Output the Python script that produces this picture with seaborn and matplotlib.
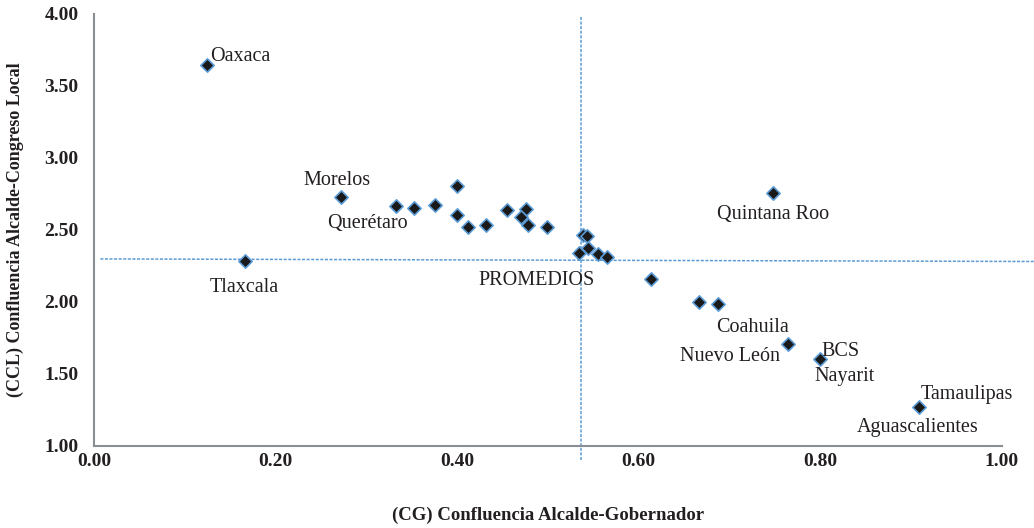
import matplotlib
matplotlib.use("Agg")
import matplotlib.pyplot as plt
import seaborn as sns
import pandas as pd

# confluencia alcalde-gobernador (x) vs alcalde-congreso local (y), por estado
cg = [0.125, 0.166, 0.272, 0.333, 0.353, 0.376, 0.400, 0.400, 0.412, 0.432,
      0.455, 0.476, 0.471, 0.478, 0.499, 0.539, 0.543, 0.544, 0.534, 0.555,
      0.565, 0.614, 0.667, 0.688, 0.748, 0.765, 0.800, 0.909]
ccl = [3.645, 2.281, 2.727, 2.664, 2.650, 2.671, 2.803, 2.601, 2.518, 2.532,
       2.636, 2.643, 2.587, 2.532, 2.518, 2.462, 2.455, 2.372, 2.337, 2.330,
       2.309, 2.160, 2.000, 1.985, 2.754, 1.705, 1.605, 1.272]

# promedios
mean_cg = 0.537
mean_ccl_left = 2.298
mean_ccl_right = 2.280

# etiquetas: (texto, x, y, dx, dy, ha)  dx/dy en puntos
labels = [
    ("Oaxaca", 0.125, 3.645, 2, 6, "left"),
    ("Morelos", 0.272, 2.727, -3, 12, "center"),
    ("Querétaro", 0.272, 2.727, 19, -19, "center"),
    ("Tlaxcala", 0.166, 2.281, 0, -19, "center"),
    ("Quintana Roo", 0.748, 2.754, 0, -15, "center"),
    ("PROMEDIOS", 0.537, 2.293, -32, -15, "center"),
    ("Coahuila", 0.765, 1.705, -26, 12, "center"),
    ("Nuevo León", 0.765, 1.705, -42, -9, "center"),
    ("BCS", 0.800, 1.605, 1, 5, "left"),
    ("Nayarit", 0.800, 1.605, 18, -13, "center"),
    ("Tamaulipas", 0.909, 1.272, 1, 9, "left"),
    ("Aguascalientes", 0.909, 1.272, -1, -15, "center"),
]

df = pd.DataFrame({"CG": cg, "CCL": ccl})

sns.set_style("white")
plt.rcParams["font.family"] = ["Liberation Serif", "DejaVu Serif"]

fig = plt.figure(figsize=(10.34, 5.28), dpi=100)
ax = fig.add_axes([0.0909, 0.1559, 0.8777, 0.8176])

blue = "#5B9BD5"
ax.plot([mean_cg, mean_cg], [0.9, 3.98], color=blue, lw=1.1,
        ls=(0, (2, 1)), zorder=1, clip_on=False)
ax.plot([0.007, 1.04], [mean_ccl_left, mean_ccl_right], color=blue, lw=1.1,
        ls=(0, (2, 1)), zorder=1, clip_on=False)

sns.scatterplot(data=df, x="CG", y="CCL", marker="D", s=46, color="#1a1a1a",
                edgecolor=blue, linewidth=1.2, zorder=3, ax=ax)

for txt, x, y, dx, dy, ha in labels:
    ax.annotate(txt, (x, y), xytext=(dx, dy), textcoords="offset points",
                ha=ha, va="center", fontsize=14.5, color="#231f20")

ax.set_xlim(0, 1)
ax.set_ylim(1, 4)
ax.set_xticks([0, 0.2, 0.4, 0.6, 0.8, 1.0])
ax.set_yticks([1.0, 1.5, 2.0, 2.5, 3.0, 3.5, 4.0])
ax.set_xticklabels([f"{v:.2f}" for v in ax.get_xticks()])
ax.set_yticklabels([f"{v:.2f}" for v in ax.get_yticks()])

for side in ["top", "right"]:
    ax.spines[side].set_visible(False)
for side in ["left", "bottom"]:
    ax.spines[side].set_color("#8a8f96")
    ax.spines[side].set_linewidth(1.5)

ax.tick_params(axis="both", which="major", length=4, width=1, color="#8a8f96",
               labelsize=14, labelcolor="#231f20", direction="out")
ax.tick_params(axis="x", pad=1)
ax.tick_params(axis="y", pad=7)
for t in ax.get_xticklabels() + ax.get_yticklabels():
    t.set_fontweight("bold")

ax.set_xlabel("(CG) Confluencia Alcalde-Gobernador", fontsize=13.5,
              fontweight="bold", color="#231f20", labelpad=27)
ax.set_ylabel("(CCL) Confluencia Alcalde-Congreso Local", fontsize=13,
              fontweight="bold", color="#231f20", labelpad=15)

fig.savefig("out.png", dpi=100)
